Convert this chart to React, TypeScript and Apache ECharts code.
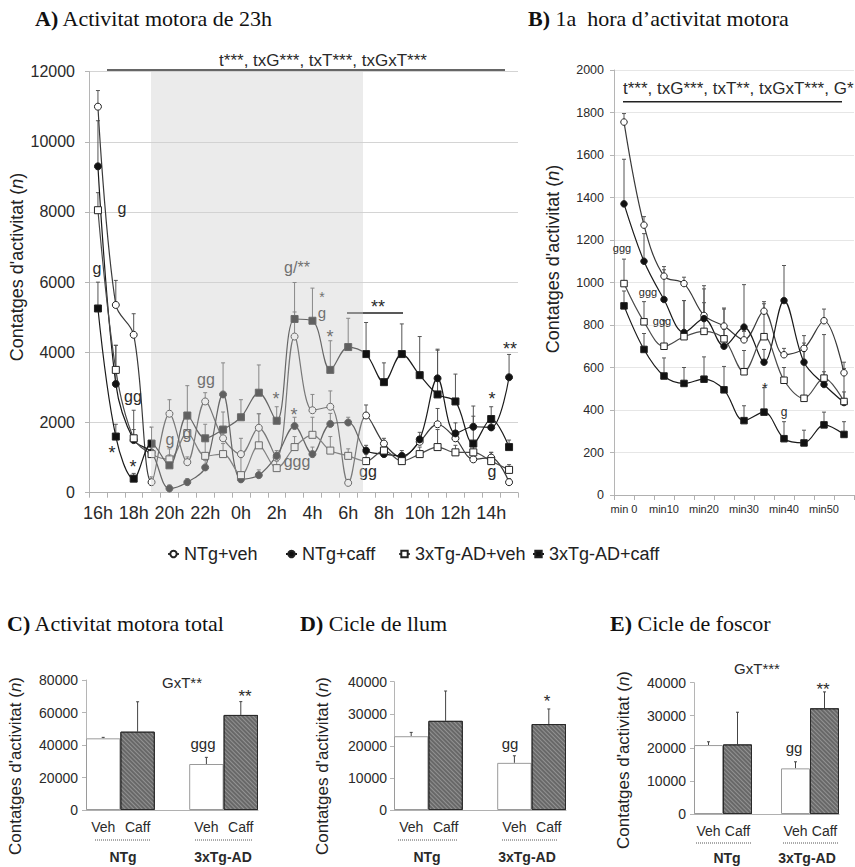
import React, { useEffect, useRef } from 'react';
import * as echarts from 'echarts';

// ---------- DATA ----------
const hoursA = ['16h','17h','18h','19h','20h','21h','22h','23h','0h','1h','2h','3h','4h','5h','6h','7h','8h','9h','10h','11h','12h','13h','14h','15h'];
const aNtgVeh = [11000,5350,4500,300,2250,870,2600,1550,1100,1850,1000,4450,2350,2450,280,2200,1400,1000,1450,1950,1550,950,1000,300];
const aNtgVehErr = [460,700,600,150,400,150,250,150,450,400,150,700,450,450,100,300,150,100,150,450,200,150,150,100];
const aNtgCaff = [9300,3100,1500,1150,120,300,720,2800,380,500,1050,1900,1100,1960,2000,1200,1100,1050,1520,3260,1690,1880,1860,3290];
const aNtgCaffErr = [1300,1100,300,200,100,100,200,900,150,150,150,250,200,300,150,150,150,150,200,800,300,300,250,650];
const aTgVeh = [8050,3500,1550,1100,950,1700,1050,1100,500,1350,700,1300,1650,1200,1050,900,1200,900,1100,1300,1150,1150,900,650];
const aTgVehErr = [500,700,800,200,300,400,500,300,500,900,200,300,500,400,200,200,200,200,200,500,200,200,250,150];
const aTgCaff = [5250,1600,400,1400,780,2200,1550,1800,2150,2850,2050,4950,4900,3500,4150,3950,3150,3950,3350,2800,2600,1400,2100,1300];
const aTgCaffErr = [750,350,150,470,300,850,400,500,500,790,400,1040,930,830,820,900,550,860,1100,1290,780,1070,350,200];

const minsB = ['min 0','min 5','min10','min15','min20','min25','min30','min35','min40','min45','min50','min55'];
const bNtgVeh = [1755,1270,1030,995,845,795,730,865,660,690,820,575];
const bNtgVehErr = [40,40,45,30,60,85,40,45,30,60,55,50];
const bNtgCaff = [1370,1100,920,765,830,700,790,625,915,625,520,435];
const bNtgCaffErr = [210,130,140,150,140,80,200,60,165,90,60,50];
const bTgVeh = [995,815,700,745,770,735,580,745,540,455,550,440];
const bTgVehErr = [115,95,120,170,215,140,100,155,60,220,205,155];
const bTgCaff = [890,685,560,525,545,495,350,390,265,245,330,285];
const bTgCaffErr = [70,75,85,75,105,110,70,115,80,60,60,60];

const barCats = ['Veh','Caff','','Veh','Caff'];
const groupNames = ['NTg','3xTg-AD'];
const cVeh = [44100, 28300];
const cVehErr = [600, 4100];
const cCaff = [48200, 58500];
const cCaffErr = [18400, 8200];
const dVeh = [23000, 14700];
const dVehErr = [1200, 2200];
const dCaff = [27800, 26800];
const dCaffErr = [9300, 4700];
const eVeh = [21000, 13900];
const eVehErr = [1000, 2000];
const eCaff = [21200, 32200];
const eCaffErr = [9800, 5000];

const seriesNames = ['NTg+veh','NTg+caff','3xTg-AD+veh','3xTg-AD+caff'];

// ---------- STYLE ----------
const SANS = "'Liberation Sans', Arial, sans-serif";
const SERIF = "'Liberation Serif', 'Times New Roman', serif";
const NARROW = "'Liberation Sans Narrow', 'Liberation Sans', Arial, sans-serif";

const lineStyles = [
  { symbol: 'circle', open: true, line: '#3a3a3a' },
  { symbol: 'circle', open: false, line: '#1a1a1a' },
  { symbol: 'rect', open: true, line: '#4a4a4a' },
  { symbol: 'rect', open: false, line: '#1a1a1a' },
];

function lineSeries(k: number, data: number[], axis: number, size: number) {
  const st = lineStyles[k];
  return {
    type: 'line', name: seriesNames[k], xAxisIndex: axis, yAxisIndex: axis, data,
    smooth: 0.35, symbol: st.symbol, symbolSize: size, showSymbol: true,
    lineStyle: { color: st.line, width: 1.2 },
    itemStyle: { color: st.open ? '#ffffff' : '#111111', borderColor: '#222', borderWidth: 1 },
    z: 3, silent: true,
  };
}

function errSeries(id: string, xs: number[], means: number[], errs: number[], axis: number, cap: number, color: string) {
  return {
    type: 'custom', name: id, xAxisIndex: axis, yAxisIndex: axis, silent: true, z: 2,
    data: means.map((m, i) => [xs[i], m, errs[i]]),
    encode: { x: 0, y: 1 },
    renderItem: (params: any, api: any) => {
      const x = api.value(0), m = api.value(1), e = api.value(2);
      const p0 = api.coord([x, m]);
      const p1 = api.coord([x, m + e]);
      return {
        type: 'group',
        children: [
          { type: 'line', shape: { x1: p0[0], y1: p0[1], x2: p1[0], y2: p1[1] }, style: { stroke: color, lineWidth: 1 } },
          { type: 'line', shape: { x1: p1[0] - cap, y1: p1[1], x2: p1[0] + cap, y2: p1[1] }, style: { stroke: color, lineWidth: 1 } },
        ],
      };
    },
  };
}

const vehIdx = [0, 3];
const caffIdx = [1, 4];

function barSeries(kind: 'veh' | 'caff', vals: number[], axis: number) {
  const idx = kind === 'veh' ? vehIdx : caffIdx;
  const data = barCats.map((_, i) => { const j = idx.indexOf(i); return j >= 0 ? vals[j] : '-'; });
  return {
    type: 'bar', name: kind === 'veh' ? 'Veh' : 'Caff', xAxisIndex: axis, yAxisIndex: axis, data,
    barWidth: '100%', barGap: '-100%', silent: true, z: 2,
    itemStyle: kind === 'veh'
      ? { color: '#ffffff', borderColor: '#9a9a9a', borderWidth: 1 }
      : {
          color: '#686868', borderColor: '#2a2a2a', borderWidth: 1,
          decal: { symbol: 'rect', symbolSize: 1, color: 'rgba(255,255,255,0.28)', dashArrayX: [1, 0], dashArrayY: [1, 1.5], rotation: Math.PI / 4 },
        },
  };
}

function txt(text: string, x: number, y: number, size: number, extra: any = {}) {
  return {
    type: 'text', x, y, z: 5, silent: true,
    style: { text, fontSize: size, fontFamily: SANS, fill: '#2a2a2a', align: 'center', verticalAlign: 'middle', ...extra },
  };
}
function hline(x1: number, x2: number, y: number, w: number, color: string, dash?: number[]) {
  return { type: 'line', z: 5, silent: true, shape: { x1, y1: y, x2, y2: y }, style: { stroke: color, lineWidth: w, lineDash: dash } };
}
function yTitle(x: number, y: number, size: number) {
  return {
    type: 'text', x, y, rotation: Math.PI / 2, z: 5, silent: true,
    style: {
      text: "Contatges d'activitat ({i|n})",
      fontSize: size, fontFamily: SANS, fill: '#222', align: 'center', verticalAlign: 'middle',
      rich: { i: { fontStyle: 'italic', fontSize: size, fontFamily: SANS, fill: '#222' } },
    },
  };
}
function title(x: number, y: number, letter: string, rest: string) {
  return {
    type: 'text', x, y, z: 5, silent: true,
    style: {
      text: `{b|${letter}} ${rest}`, fontSize: 22, fontFamily: SERIF, fill: '#111', align: 'left', verticalAlign: 'middle',
      rich: { b: { fontWeight: 'bold', fontSize: 22, fontFamily: SERIF, fill: '#111' } },
    },
  };
}

const plain = (v: number) => String(v);

function valueAxis(grid: number, max: number, interval: number, fontSize: number, margin: number, split: boolean, splitColor = '#d6d6d6') {
  return {
    type: 'value', gridIndex: grid, min: 0, max, interval,
    axisLine: { show: true, lineStyle: { color: '#b5b5b5', width: 1 } },
    axisTick: { show: true, length: 4, lineStyle: { color: '#b5b5b5' } },
    axisLabel: { fontSize, fontFamily: SANS, color: '#2a2a2a', margin, formatter: plain },
    splitLine: { show: split, lineStyle: { color: splitColor, width: 1 } },
  };
}
function catAxis(grid: number, data: string[], fontSize: number, margin: number, labelInterval: number, ticks: boolean) {
  return {
    type: 'category', gridIndex: grid, data, boundaryGap: true,
    axisLine: { show: true, lineStyle: { color: '#b0b0b0', width: 1 } },
    axisTick: { show: ticks, interval: 0, length: 5, lineStyle: { color: '#b0b0b0' } },
    axisLabel: { fontSize, fontFamily: SANS, color: '#2a2a2a', margin, interval: labelInterval },
    splitLine: { show: false },
  };
}

export default function App() {
  const ref = useRef<HTMLDivElement>(null);
  useEffect(() => {
    if (!ref.current) return;
    const chart = echarts.init(ref.current, undefined, { renderer: 'svg' });
    const idxA = hoursA.map((_, i) => i);
    const idxB = minsB.map((_, i) => i);

    const option: any = {
      animation: false,
      backgroundColor: '#ffffff',
      grid: [
        { left: 89, top: 71.6, width: 429, height: 421.1 },
        { left: 614, top: 70, width: 240, height: 425 },
        { left: 86, top: 680, width: 172, height: 130 },
        { left: 394, top: 681.7, width: 172, height: 128.3 },
        { left: 694, top: 682.7, width: 145, height: 131.3 },
      ],
      xAxis: [
        catAxis(0, hoursA, 18, 11, 1, true),
        catAxis(1, minsB, 11, 8, 1, true),
        catAxis(2, barCats, 14, 10, 0, false),
        catAxis(3, barCats, 14, 10, 0, false),
        catAxis(4, barCats, 14, 10, 0, false),
      ],
      yAxis: [
        valueAxis(0, 12000, 2000, 16, 14, true, '#d4d4d4'),
        valueAxis(1, 2000, 200, 12.5, 10, true, '#e6e6e6'),
        valueAxis(2, 80000, 20000, 14, 8, false),
        valueAxis(3, 40000, 10000, 14, 7, false),
        valueAxis(4, 40000, 10000, 14, 8, false),
      ],
      legend: seriesNames.map((n, k) => ({
        data: [n], left: [167, 285, 398, 532][k], top: 545, orient: 'horizontal',
        itemWidth: 11, itemHeight: 8, padding: 0, selectedMode: false,
        textStyle: { fontSize: 18, fontFamily: SANS, color: '#222' },
      })),
      series: [
        errSeries('eA0', idxA, aNtgVeh, aNtgVehErr, 0, 2, '#555'),
        errSeries('eA1', idxA, aNtgCaff, aNtgCaffErr, 0, 2, '#555'),
        errSeries('eA2', idxA, aTgVeh, aTgVehErr, 0, 2, '#555'),
        errSeries('eA3', idxA, aTgCaff, aTgCaffErr, 0, 2, '#555'),
        lineSeries(0, aNtgVeh, 0, 7),
        lineSeries(1, aNtgCaff, 0, 7),
        lineSeries(2, aTgVeh, 0, 7),
        lineSeries(3, aTgCaff, 0, 7),
        errSeries('eB0', idxB, bNtgVeh, bNtgVehErr, 1, 2, '#555'),
        errSeries('eB1', idxB, bNtgCaff, bNtgCaffErr, 1, 2, '#555'),
        errSeries('eB2', idxB, bTgVeh, bTgVehErr, 1, 2, '#555'),
        errSeries('eB3', idxB, bTgCaff, bTgCaffErr, 1, 2, '#555'),
        lineSeries(0, bNtgVeh, 1, 6.5),
        lineSeries(1, bNtgCaff, 1, 6.5),
        lineSeries(2, bTgVeh, 1, 6.5),
        lineSeries(3, bTgCaff, 1, 6.5),
        barSeries('veh', cVeh, 2), barSeries('caff', cCaff, 2),
        errSeries('eC0', vehIdx, cVeh, cVehErr, 2, 1.5, '#444'),
        errSeries('eC1', caffIdx, cCaff, cCaffErr, 2, 1.5, '#444'),
        barSeries('veh', dVeh, 3), barSeries('caff', dCaff, 3),
        errSeries('eD0', vehIdx, dVeh, dVehErr, 3, 1.5, '#444'),
        errSeries('eD1', caffIdx, dCaff, dCaffErr, 3, 1.5, '#444'),
        barSeries('veh', eVeh, 4), barSeries('caff', eCaff, 4),
        errSeries('eE0', vehIdx, eVeh, eVehErr, 4, 1.5, '#444'),
        errSeries('eE1', caffIdx, eCaff, eCaffErr, 4, 1.5, '#444'),
      ],
      graphic: {
        elements: [
          // dark-phase shading over panel A
          { type: 'rect', z: 10, silent: true, shape: { x: 151, y: 71, width: 212, height: 421.7 }, style: { fill: 'rgba(208,208,208,0.42)' } },
          // titles
          title(35, 18, 'A)', 'Activitat motora de 23h'),
          title(528, 18, 'B)', '1a  hora d’activitat motora'),
          title(7, 623, 'C)', 'Activitat motora total'),
          title(300, 623, 'D)', 'Cicle de llum'),
          title(610, 623, 'E)', 'Cicle de foscor'),
          // y axis titles
          yTitle(17, 267, 18),
          yTitle(553, 259, 18),
          yTitle(15, 766, 17),
          yTitle(322, 766, 17),
          yTitle(623, 760, 17),
          // panel A statistics
          txt('t***, txG***, txT***, txGxT***', 323, 60, 17),
          hline(107, 505, 70, 1.5, '#333'),
          txt('g', 122, 208, 16), txt('g', 97, 268, 16), txt('gg', 133, 396, 16),
          txt('*', 112, 453, 18), txt('*', 133, 467, 18),
          txt('g', 170, 439, 16), txt('g', 187, 433, 16), txt('gg', 206, 379, 16),
          txt('*', 276, 399, 18), txt('*', 294, 415, 18), txt('ggg', 297, 461, 16),
          txt('g/**', 297, 267, 16), txt('*', 322, 297, 14), txt('g', 322, 312, 15),
          txt('*', 330, 337, 18), txt('**', 378, 307, 18), hline(347, 403, 313, 1.3, '#222'),
          txt('gg', 368, 471, 16), txt('*', 492, 399, 18), txt('g', 492, 471, 16), txt('**', 510, 349, 18),
          // panel B statistics
          txt('t***, txG***, txT**, txGxT***, G*', 623, 88, 17, { align: 'left' }),
          hline(623, 842, 101.7, 1.5, '#222'),
          txt('ggg', 622, 248, 11), txt('ggg', 648, 292, 11), txt('ggg', 662, 321, 11),
          txt('*', 765, 387, 15), txt('g', 784, 412, 12),
          // panel C
          txt('GxT**', 182, 682, 15), txt('**', 245, 696, 17), txt('ggg', 203, 743, 15),
          hline(95, 151, 840, 1, '#555', [1, 1]), hline(195, 252, 840, 1, '#555', [1, 1]),
          txt(groupNames[0], 123, 857, 14, { fontWeight: 'bold', fontFamily: NARROW }),
          txt(groupNames[1], 223, 857, 14, { fontWeight: 'bold', fontFamily: NARROW }),
          // panel D
          txt('gg', 510, 743, 15), txt('*', 547, 701, 17),
          hline(398, 457, 840, 1, '#555', [1, 1]), hline(502, 557, 840, 1, '#555', [1, 1]),
          txt(groupNames[0], 427, 857, 14, { fontWeight: 'bold', fontFamily: NARROW }),
          txt(groupNames[1], 527, 857, 14, { fontWeight: 'bold', fontFamily: NARROW }),
          // panel E
          txt('GxT***', 757, 668, 15), txt('**', 823, 689, 17), txt('gg', 794, 747, 15),
          hline(696, 752, 843, 1, '#555', [1, 1]), hline(783, 839, 843, 1, '#555', [1, 1]),
          txt(groupNames[0], 727, 858, 14, { fontWeight: 'bold', fontFamily: NARROW }),
          txt(groupNames[1], 807, 858, 14, { fontWeight: 'bold', fontFamily: NARROW }),
        ],
      },
    };
    chart.setOption(option);
    return () => chart.dispose();
  }, []);
  return <div ref={ref} style={{ position: 'fixed', left: 0, top: 0, width: 855, height: 867, background: '#fff' }} />;
}
